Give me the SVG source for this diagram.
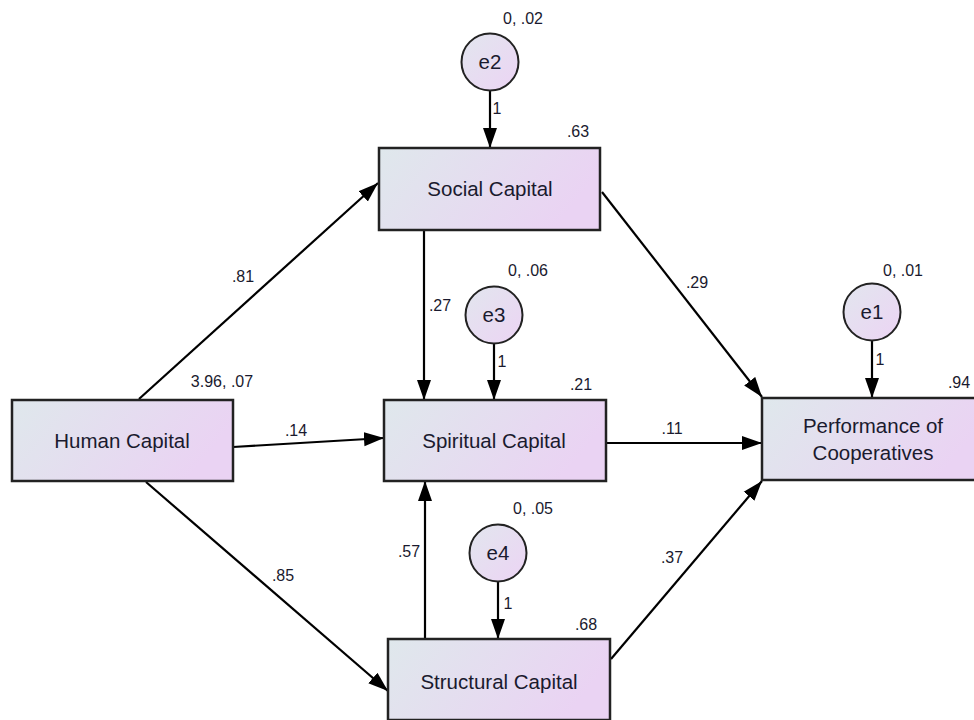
<svg xmlns="http://www.w3.org/2000/svg" width="974" height="720" viewBox="0 0 974 720">
<defs>
<linearGradient id="boxg" x1="0" y1="0" x2="1" y2="0.3">
<stop offset="0" stop-color="#dfe8ec"/>
<stop offset="1" stop-color="#ead3f3"/>
</linearGradient>
<linearGradient id="circg" x1="0" y1="0" x2="1" y2="1">
<stop offset="0" stop-color="#e2e6ee"/>
<stop offset="1" stop-color="#ecd4f4"/>
</linearGradient>
<marker id="arr" markerUnits="userSpaceOnUse" markerWidth="22" markerHeight="16" refX="20" refY="8" orient="auto">
<path d="M0,1 L20,8 L0,15 Z" fill="#000"/>
</marker>
</defs>
<style>
.box{fill:url(#boxg);stroke:#222;stroke-width:2.5}
.circ{fill:url(#circg);stroke:#222;stroke-width:2}
.nt{font-family:"Liberation Sans",Arial,sans-serif;font-size:20.5px;fill:#1a1a2e;text-anchor:middle}
.lb{font-family:"Liberation Sans",Arial,sans-serif;font-size:16px;fill:#1a1a2e;text-anchor:middle}
.edge{stroke:#000;stroke-width:2.2;fill:none;marker-end:url(#arr)}
</style>
<rect width="974" height="720" fill="#fff"/>
<g id="connectors">
<line class="edge" x1="139" y1="399" x2="378" y2="183"/>
<line class="edge" x1="233" y1="447" x2="384" y2="438"/>
<line class="edge" x1="146" y1="482" x2="388" y2="691"/>
<line class="edge" x1="424" y1="230" x2="424" y2="400"/>
<line class="edge" x1="425" y1="639" x2="425" y2="481"/>
<line class="edge" x1="602" y1="192" x2="762" y2="397"/>
<line class="edge" x1="606" y1="443" x2="762" y2="443"/>
<line class="edge" x1="611" y1="659" x2="762" y2="481"/>
<line class="edge" x1="490" y1="91" x2="490" y2="148"/>
<line class="edge" x1="494" y1="344" x2="494" y2="400"/>
<line class="edge" x1="498" y1="582" x2="498" y2="639"/>
<line class="edge" x1="872" y1="341" x2="872" y2="398"/>
</g>
<g id="lbls">
<text class="lb" x="243" y="282">.81</text>
<text class="lb" x="296" y="436">.14</text>
<text class="lb" x="283" y="581">.85</text>
<text class="lb" x="440" y="311">.27</text>
<text class="lb" x="409" y="557">.57</text>
<text class="lb" x="697" y="288">.29</text>
<text class="lb" x="672" y="434">.11</text>
<text class="lb" x="672" y="563">.37</text>
<text class="lb" x="497" y="114">1</text>
<text class="lb" x="502" y="367">1</text>
<text class="lb" x="508" y="609">1</text>
<text class="lb" x="880" y="365">1</text>
</g>
<g id="human">
<rect class="box" x="12" y="400" width="221" height="81"/>
<text class="nt" x="122" y="448">Human Capital</text>
<text class="lb" x="222" y="387">3.96, .07</text>
</g>
<g id="social">
<rect class="box" x="379" y="148" width="221" height="82"/>
<text class="nt" x="490" y="196">Social Capital</text>
<text class="lb" x="578" y="137">.63</text>
</g>
<g id="spiritual">
<rect class="box" x="384" y="400" width="222" height="81"/>
<text class="nt" x="494" y="448">Spiritual Capital</text>
<text class="lb" x="581" y="390">.21</text>
</g>
<g id="structural">
<rect class="box" x="388" y="639" width="222" height="81"/>
<text class="nt" x="499" y="689">Structural Capital</text>
<text class="lb" x="586" y="630">.68</text>
</g>
<g id="performance">
<rect class="box" x="762" y="398" width="222" height="82"/>
<text class="nt" x="873" y="433">Performance of</text>
<text class="nt" x="873" y="460">Cooperatives</text>
<text class="lb" x="959" y="388">.94</text>
</g>
<g id="e2">
<circle class="circ" cx="490" cy="62" r="28.5"/>
<text class="nt" x="490" y="69">e2</text>
<text class="lb" x="523" y="24">0, .02</text>
</g>
<g id="e3">
<circle class="circ" cx="494" cy="315" r="28.5"/>
<text class="nt" x="494" y="322">e3</text>
<text class="lb" x="528" y="276">0, .06</text>
</g>
<g id="e4">
<circle class="circ" cx="498" cy="553" r="28.5"/>
<text class="nt" x="498" y="560">e4</text>
<text class="lb" x="533" y="514">0, .05</text>
</g>
<g id="e1">
<circle class="circ" cx="872" cy="312" r="28.5"/>
<text class="nt" x="872" y="319">e1</text>
<text class="lb" x="903" y="276">0, .01</text>
</g>
</svg>
